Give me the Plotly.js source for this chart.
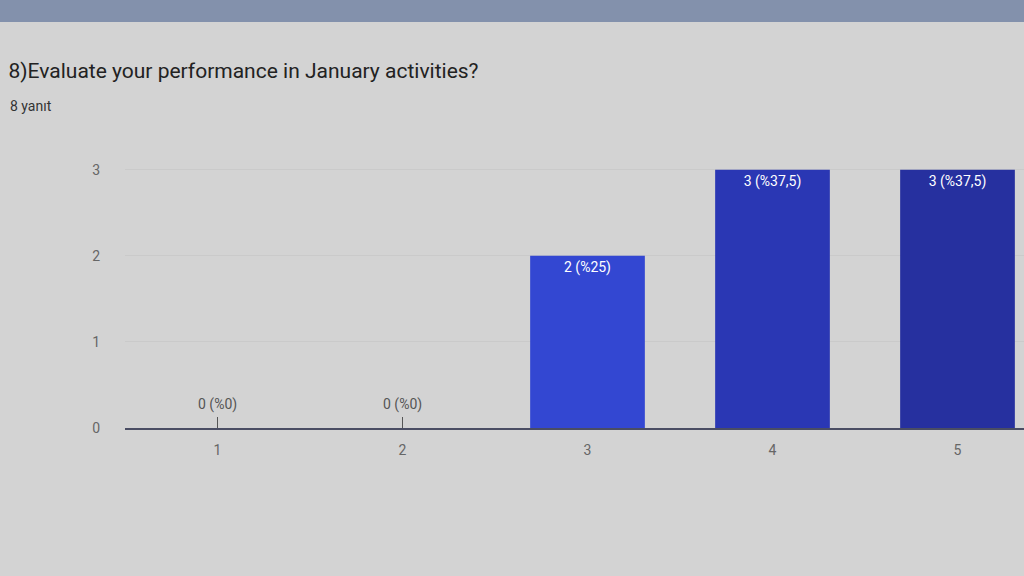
<!DOCTYPE html>
<html>
<head>
<meta charset="utf-8">
<script src="https://cdn.plot.ly/plotly-3.0.1.min.js"></script>
<style>
  body { margin: 0; overflow: hidden; background: #d3d3d3; }
  #band { position: absolute; left: 0; top: 0; width: 1024px; height: 22px; background: #8391ac; z-index: 2; }
  #chart { width: 1060px; height: 576px; }
</style>
</head>
<body>
<div id="band"></div>
<div id="chart"></div>
<script>
// answers on the 1-5 scale and how many picked each one
const categories = ["1", "2", "3", "4", "5"];
const counts = [0, 0, 2, 3, 3];
const percents = ["%0", "%0", "%25", "%37,5", "%37,5"];
const barColors = ["#3344cc", "#3344cc", "#3347d2", "#2a37b4", "#26309f"];

// label for each bar: "count (percent)"
const labels = [];
for (let i = 0; i < counts.length; i++) {
  labels.push(`${counts[i]} (${percents[i]})`);
}

// non-zero bars carry their label inside the top of the bar
const barText = labels.map((t, i) => counts[i] == 0 ? "" : t);

// zero bars get their label floating above the axis line
// (category axis: annotation x is the category index)
const zeroNotes = [];
for (let i = 0; i < counts.length; i++) {
  if (counts[i] == 0) {
    zeroNotes.push({
      text: labels[i],
      x: i,
      y: 0,
      xref: "x",
      yref: "y",
      yanchor: "bottom",
      yshift: 13,
      showarrow: false,
      font: { family: "Roboto, Arial, sans-serif", size: 14, color: "#555555" }
    });
  }
}

const data = [{
  type: "bar",
  x: categories,
  y: counts,
  text: barText,
  textposition: "inside",
  insidetextanchor: "end",
  textfont: { family: "Roboto, Arial, sans-serif", size: 14, color: "#ffffff" },
  marker: { color: barColors },
  hoverinfo: "skip"
}];

const layout = {
  width: 1060,
  height: 576,
  paper_bgcolor: "#d3d3d3",
  plot_bgcolor: "#d3d3d3",
  margin: { l: 125, r: 10, t: 150, b: 148 },
  bargap: 0.38,
  showlegend: false,
  title: {
    text: "8)Evaluate your performance in January activities?",
    font: { family: "Roboto, Arial, sans-serif", size: 21, color: "#222222" },
    xref: "container",
    x: 0.008,
    xanchor: "left",
    yref: "container",
    y: 0.878,
    yanchor: "middle"
  },
  annotations: [{
    text: "8 yanıt",
    xref: "paper",
    yref: "paper",
    x: -0.126,
    xanchor: "left",
    y: 1.16,
    yanchor: "middle",
    showarrow: false,
    font: { family: "Roboto, Arial, sans-serif", size: 14, color: "#333333" }
  }].concat(zeroNotes),
  xaxis: {
    type: "category",
    showgrid: false,
    showline: true,
    linecolor: "#4a4d63",
    linewidth: 2,
    ticks: "inside",
    ticklen: 11,
    tickcolor: "#555555",
    layer: "below traces",
    ticklabelstandoff: 8,
    tickfont: { family: "Roboto, Arial, sans-serif", size: 14, color: "#666666" }
  },
  yaxis: {
    range: [0, 3.23],
    tickvals: [0, 1, 2, 3],
    showgrid: true,
    gridcolor: "#cacaca",
    zeroline: false,
    ticks: "",
    ticklabelstandoff: 24,
    tickfont: { family: "Roboto, Arial, sans-serif", size: 14, color: "#666666" }
  }
};

Plotly.newPlot(document.getElementById("chart"), data, layout, { displayModeBar: false, staticPlot: true });
</script>
</body>
</html>
